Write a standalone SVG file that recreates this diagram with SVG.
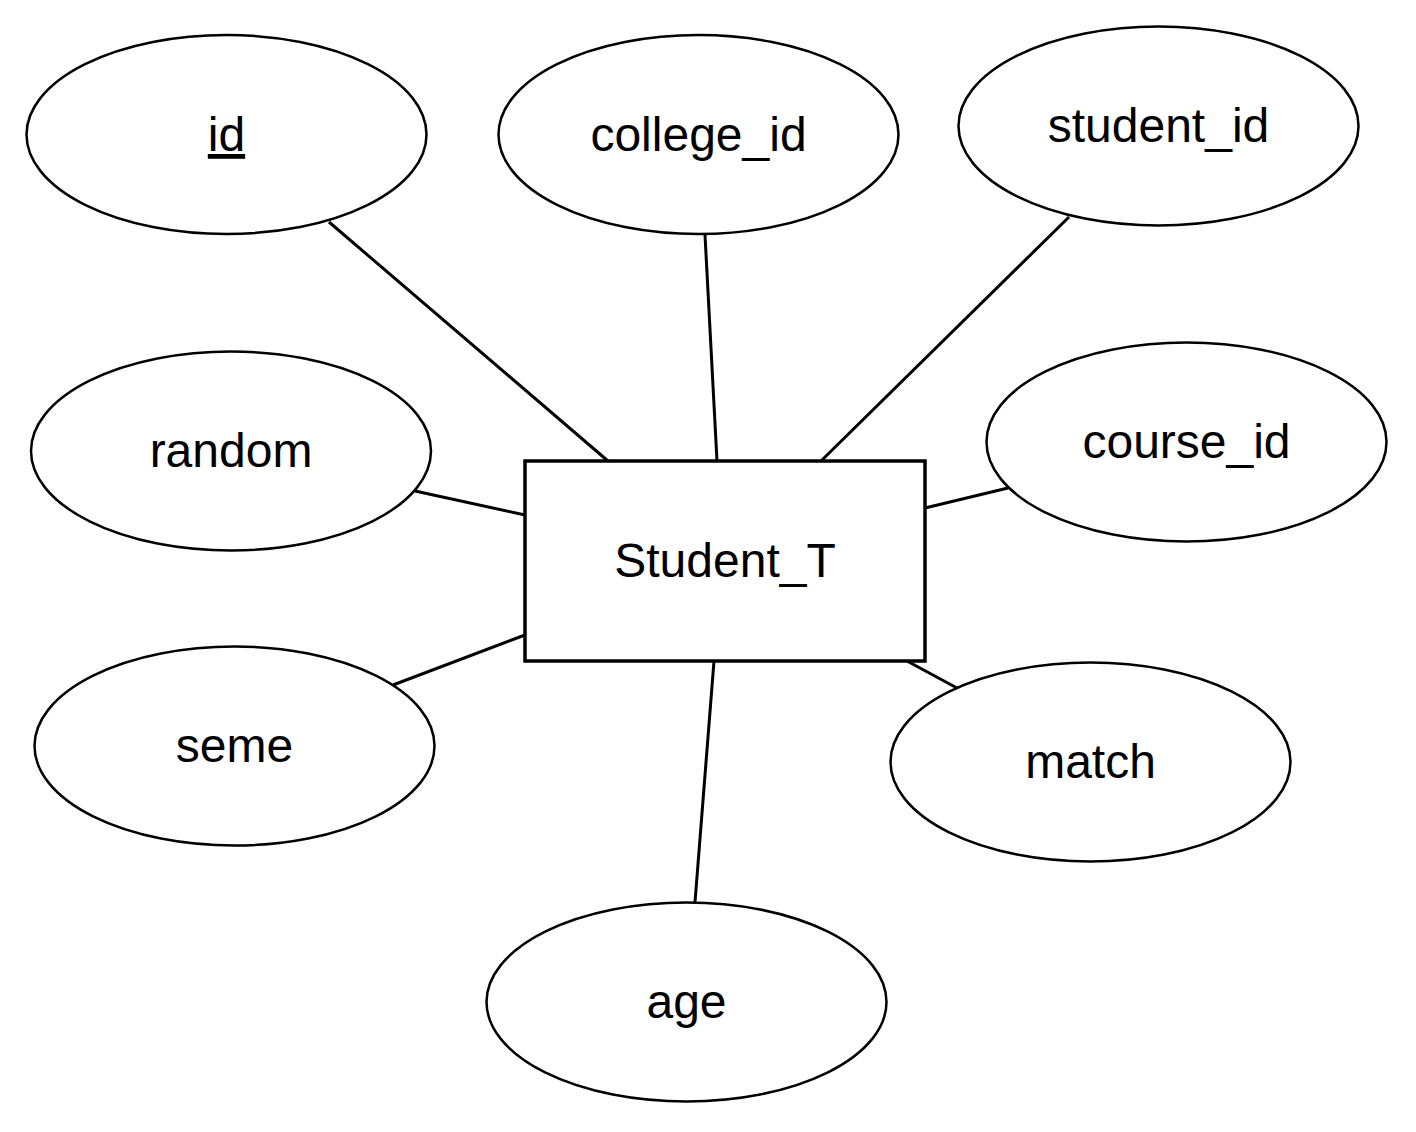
<svg xmlns="http://www.w3.org/2000/svg" width="1416" height="1132" viewBox="0 0 1416 1132">
<style>
.attr{fill:#fff;stroke:#000;stroke-width:2.5}
.ent{fill:#fff;stroke:#000;stroke-width:3.5}
.lbl{font-family:"Liberation Sans",Arial,sans-serif;font-size:48px;fill:#000;text-anchor:middle}
.conn line{stroke:#000;stroke-width:3}
</style>
<rect width="1416" height="1132" fill="#fff"/>
<g class="conn" id="connectors">
<line x1="329" y1="222" x2="608" y2="461"/>
<line x1="705" y1="235" x2="717" y2="461"/>
<line x1="1069" y1="217" x2="821" y2="461"/>
<line x1="415" y1="491" x2="525" y2="515"/>
<line x1="1008" y1="488" x2="925" y2="508"/>
<line x1="393" y1="685" x2="525" y2="635"/>
<line x1="907" y1="661" x2="957" y2="688"/>
<line x1="714" y1="661" x2="695" y2="902"/>
</g>
<g id="Student_T"><rect class="ent" x="525" y="461" width="400" height="200"/><text class="lbl" x="725" y="577">Student_T</text></g>
<g id="id"><ellipse class="attr" cx="226.5" cy="134.5" rx="200" ry="99.5"/><text class="lbl" x="226.5" y="151" text-decoration="underline">id</text></g>
<g id="college_id"><ellipse class="attr" cx="698.5" cy="134.5" rx="200" ry="99.5"/><text class="lbl" x="698.5" y="151">college_id</text></g>
<g id="student_id"><ellipse class="attr" cx="1158.5" cy="126" rx="200" ry="99.5"/><text class="lbl" x="1158.5" y="142">student_id</text></g>
<g id="random"><ellipse class="attr" cx="231" cy="451" rx="200" ry="99.5"/><text class="lbl" x="231" y="467">random</text></g>
<g id="course_id"><ellipse class="attr" cx="1186.5" cy="442" rx="200" ry="99.5"/><text class="lbl" x="1186.5" y="458">course_id</text></g>
<g id="seme"><ellipse class="attr" cx="234.5" cy="746" rx="200" ry="99.5"/><text class="lbl" x="234.5" y="762">seme</text></g>
<g id="match"><ellipse class="attr" cx="1090.5" cy="762" rx="200" ry="99.5"/><text class="lbl" x="1090.5" y="778">match</text></g>
<g id="age"><ellipse class="attr" cx="686.5" cy="1002" rx="200" ry="99.5"/><text class="lbl" x="686.5" y="1018">age</text></g>
</svg>
